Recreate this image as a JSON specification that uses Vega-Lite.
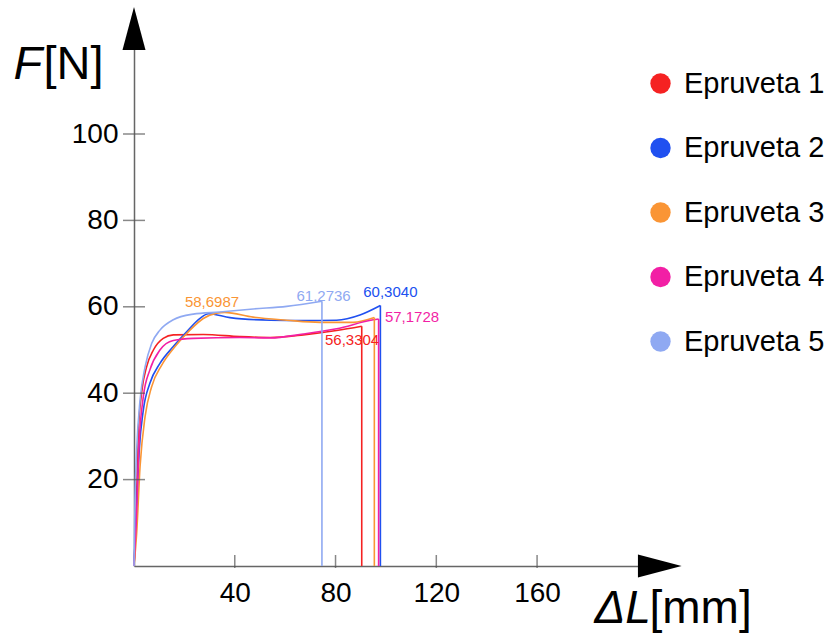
{
  "$schema": "https://vega.github.io/schema/vega-lite/v6.json",
  "width": 524,
  "height": 540,
  "autosize": {"type": "none"},
  "padding": {"left": 134, "top": 26, "right": 174, "bottom": 71},
  "background": "white",
  "config": {"view": {"stroke": null}, "font": "Liberation Sans", "axis": {"grid": false}},
  "datasets": {
    "curves": [
      {"s": "Epruveta 1", "x": 0, "y": 0}, {"s": "Epruveta 1", "x": 0.8, "y": 11.4}, {"s": "Epruveta 1", "x": 1.7, "y": 30.7}, {"s": "Epruveta 1", "x": 3.0, "y": 40}, {"s": "Epruveta 1", "x": 5.0, "y": 46.1}, {"s": "Epruveta 1", "x": 7.7, "y": 50}, {"s": "Epruveta 1", "x": 11.6, "y": 52.7}, {"s": "Epruveta 1", "x": 15.6, "y": 53.5}, {"s": "Epruveta 1", "x": 27.5, "y": 53.6}, {"s": "Epruveta 1", "x": 42, "y": 53.1}, {"s": "Epruveta 1", "x": 54, "y": 52.9}, {"s": "Epruveta 1", "x": 67.2, "y": 53.5}, {"s": "Epruveta 1", "x": 80.4, "y": 54.5}, {"s": "Epruveta 1", "x": 90.4, "y": 55.5},
      {"s": "Epruveta 2", "x": 0, "y": 0}, {"s": "Epruveta 2", "x": 1.06, "y": 13.7}, {"s": "Epruveta 2", "x": 2.1, "y": 26.9}, {"s": "Epruveta 2", "x": 3.7, "y": 36.1}, {"s": "Epruveta 2", "x": 6.3, "y": 42.3}, {"s": "Epruveta 2", "x": 10.3, "y": 46.9}, {"s": "Epruveta 2", "x": 15.6, "y": 50.8}, {"s": "Epruveta 2", "x": 20.9, "y": 54.2}, {"s": "Epruveta 2", "x": 26.2, "y": 57.3}, {"s": "Epruveta 2", "x": 29.5, "y": 58.4}, {"s": "Epruveta 2", "x": 38.1, "y": 57.5}, {"s": "Epruveta 2", "x": 54, "y": 56.9}, {"s": "Epruveta 2", "x": 67.2, "y": 56.8}, {"s": "Epruveta 2", "x": 80.4, "y": 56.9}, {"s": "Epruveta 2", "x": 89.7, "y": 58.1}, {"s": "Epruveta 2", "x": 97.8, "y": 60.3},
      {"s": "Epruveta 3", "x": 0, "y": 0}, {"s": "Epruveta 3", "x": 1.06, "y": 7.6}, {"s": "Epruveta 3", "x": 2.4, "y": 23}, {"s": "Epruveta 3", "x": 4.4, "y": 34.6}, {"s": "Epruveta 3", "x": 7, "y": 41.5}, {"s": "Epruveta 3", "x": 11, "y": 46.5}, {"s": "Epruveta 3", "x": 16.3, "y": 50.8}, {"s": "Epruveta 3", "x": 22.2, "y": 54.6}, {"s": "Epruveta 3", "x": 27.5, "y": 57.3}, {"s": "Epruveta 3", "x": 32.8, "y": 58.5}, {"s": "Epruveta 3", "x": 36, "y": 58.7}, {"s": "Epruveta 3", "x": 47.3, "y": 57.6}, {"s": "Epruveta 3", "x": 60.6, "y": 56.9}, {"s": "Epruveta 3", "x": 73.8, "y": 56.4}, {"s": "Epruveta 3", "x": 87, "y": 56.4}, {"s": "Epruveta 3", "x": 95.4, "y": 57.5},
      {"s": "Epruveta 4", "x": 0, "y": 0}, {"s": "Epruveta 4", "x": 0.8, "y": 9.1}, {"s": "Epruveta 4", "x": 2.1, "y": 29.2}, {"s": "Epruveta 4", "x": 3.7, "y": 39.2}, {"s": "Epruveta 4", "x": 6.3, "y": 45.4}, {"s": "Epruveta 4", "x": 10.3, "y": 50}, {"s": "Epruveta 4", "x": 15.6, "y": 52.2}, {"s": "Epruveta 4", "x": 23.5, "y": 52.7}, {"s": "Epruveta 4", "x": 42, "y": 52.9}, {"s": "Epruveta 4", "x": 54, "y": 52.8}, {"s": "Epruveta 4", "x": 67.2, "y": 53.7}, {"s": "Epruveta 4", "x": 80.4, "y": 54.9}, {"s": "Epruveta 4", "x": 95, "y": 57.0}, {"s": "Epruveta 4", "x": 97.1, "y": 57.17},
      {"s": "Epruveta 5", "x": 0, "y": 0}, {"s": "Epruveta 5", "x": 0.4, "y": 15.3}, {"s": "Epruveta 5", "x": 1.06, "y": 26.9}, {"s": "Epruveta 5", "x": 2.4, "y": 38.4}, {"s": "Epruveta 5", "x": 4.4, "y": 46.1}, {"s": "Epruveta 5", "x": 7, "y": 51.5}, {"s": "Epruveta 5", "x": 10.3, "y": 54.6}, {"s": "Epruveta 5", "x": 15.6, "y": 57}, {"s": "Epruveta 5", "x": 23.5, "y": 58.3}, {"s": "Epruveta 5", "x": 34.1, "y": 58.8}, {"s": "Epruveta 5", "x": 47.3, "y": 59.5}, {"s": "Epruveta 5", "x": 60.6, "y": 60.1}, {"s": "Epruveta 5", "x": 74.6, "y": 61.27}
    ],
    "ends": [
      {"s": "Epruveta 1", "x": 90.4, "y": 55.5},
      {"s": "Epruveta 2", "x": 97.8, "y": 60.3},
      {"s": "Epruveta 3", "x": 95.4, "y": 57.5},
      {"s": "Epruveta 4", "x": 97.1, "y": 57.17},
      {"s": "Epruveta 5", "x": 74.6, "y": 61.27}
    ],
    "labels": [
      {"s": "Epruveta 3", "x": 20.2, "y": 60.0, "t": "58,6987"},
      {"s": "Epruveta 5", "x": 64.5, "y": 61.4, "t": "61,2736"},
      {"s": "Epruveta 2", "x": 91.0, "y": 62.3, "t": "60,3040"},
      {"s": "Epruveta 4", "x": 99.6, "y": 56.55, "t": "57,1728"},
      {"s": "Epruveta 1", "x": 75.8, "y": 51.2, "t": "56,3304"}
    ],
    "yticks": [{"v": 20}, {"v": 40}, {"v": 60}, {"v": 80}, {"v": 100}],
    "xticks": [{"v": 40}, {"v": 80}, {"v": 120}, {"v": 160}],
    "arrowUp": [{"x": 0, "y": 124.4}],
    "arrowRight": [{"x": 208.7, "y": 0}]
  },
  "layer": [
    {
      "data": {"name": "curves"},
      "mark": {"type": "line", "interpolate": "monotone", "strokeWidth": 1.6},
      "encoding": {
        "x": {"field": "x", "type": "quantitative", "scale": {"domain": [0, 208], "nice": false, "zero": false},
          "axis": {"orient": "bottom", "values": [40, 80, 120, 160], "domainColor": "#666", "domainWidth": 1.5, "ticks": false, "labelFontSize": 28, "labelColor": "#000", "labelPadding": 13, "labelFlush": false,
            "title": "ΔL", "titleFontStyle": "italic", "titleFontWeight": "normal", "titleFontSize": 46, "titleColor": "#000", "titleX": 460, "titleY": 56, "titleAlign": "left", "titleBaseline": "alphabetic"}},
        "y": {"field": "y", "type": "quantitative", "scale": {"domain": [0, 125], "nice": false},
          "axis": {"orient": "left", "values": [20, 40, 60, 80, 100], "domainColor": "#666", "domainWidth": 1.5, "ticks": false, "labelFontSize": 28, "labelColor": "#000", "labelPadding": 16, "labelFlush": false,
            "title": "F", "titleFontStyle": "italic", "titleFontWeight": "normal", "titleFontSize": 47, "titleColor": "#000", "titleAngle": 0, "titleX": -121, "titleY": 52, "titleAlign": "left", "titleBaseline": "alphabetic"}},
        "color": {"field": "s", "type": "nominal",
          "scale": {"domain": ["Epruveta 1", "Epruveta 2", "Epruveta 3", "Epruveta 4", "Epruveta 5"], "range": ["#f52222", "#2050f0", "#fa9535", "#f21fa5", "#8fa9f2"]},
          "legend": {"orient": "none", "legendX": 512, "legendY": 43, "title": null, "padding": 0, "labelFontSize": 29, "labelColor": "#000", "symbolType": "circle", "symbolSize": 415, "rowPadding": 34.5, "labelOffset": 9,
            "encode": {"symbols": {"update": {"fill": {"scale": "color", "field": "value"}, "strokeWidth": {"value": 0}, "opacity": {"value": 1}}}}}}
      }
    },
    {
      "data": {"name": "ends"},
      "mark": {"type": "rule", "strokeWidth": 1.6},
      "encoding": {
        "x": {"field": "x", "type": "quantitative", "scale": {"domain": [0, 208], "nice": false, "zero": false}, "axis": null},
        "y": {"field": "y", "type": "quantitative", "scale": {"domain": [0, 125], "nice": false}, "axis": null},
        "y2": {"datum": 0},
        "color": {"field": "s", "type": "nominal"}
      }
    },
    {
      "data": {"name": "labels"},
      "mark": {"type": "text", "align": "left", "baseline": "alphabetic", "fontSize": 15},
      "encoding": {
        "x": {"field": "x", "type": "quantitative", "scale": {"domain": [0, 208], "nice": false, "zero": false}, "axis": null},
        "y": {"field": "y", "type": "quantitative", "scale": {"domain": [0, 125], "nice": false}, "axis": null},
        "text": {"field": "t"},
        "color": {"field": "s", "type": "nominal"}
      }
    },
    {
      "data": {"name": "yticks"},
      "mark": {"type": "tick", "orient": "horizontal", "size": 22, "thickness": 1.5, "color": "#555"},
      "encoding": {
        "y": {"field": "v", "type": "quantitative", "scale": {"domain": [0, 125], "nice": false}, "axis": null},
        "x": {"datum": 0, "type": "quantitative", "scale": {"domain": [0, 208], "nice": false, "zero": false}, "axis": null}
      }
    },
    {
      "data": {"name": "xticks"},
      "mark": {"type": "tick", "orient": "vertical", "size": 13, "thickness": 1.5, "color": "#555", "yOffset": -4.5},
      "encoding": {
        "x": {"field": "v", "type": "quantitative", "scale": {"domain": [0, 208], "nice": false, "zero": false}, "axis": null},
        "y": {"datum": 0, "type": "quantitative", "scale": {"domain": [0, 125], "nice": false}, "axis": null}
      }
    },
    {
      "data": {"name": "arrowUp"},
      "mark": {"type": "point", "shape": "M0,-1L0.535,1L-0.535,1Z", "filled": true, "size": 1849, "color": "#000", "opacity": 1},
      "encoding": {
        "x": {"field": "x", "type": "quantitative", "scale": {"domain": [0, 208], "nice": false, "zero": false},
          "axis": {"orient": "top", "domain": false, "ticks": false, "labels": false, "title": "[mm]", "titleFontWeight": "normal", "titleFontSize": 46, "titleColor": "#000", "titleX": 515, "titleY": 596, "titleAlign": "left", "titleBaseline": "alphabetic"}},
        "y": {"field": "y", "type": "quantitative", "scale": {"domain": [0, 125], "nice": false},
          "axis": {"orient": "right", "domain": false, "ticks": false, "labels": false, "title": "[N]", "titleFontWeight": "normal", "titleFontSize": 47, "titleColor": "#000", "titleAngle": 0, "titleX": -615, "titleY": 52, "titleAlign": "left", "titleBaseline": "alphabetic"}}
      }
    },
    {
      "data": {"name": "arrowRight"},
      "mark": {"type": "point", "shape": "M1,0L-1,0.526L-1,-0.526Z", "filled": true, "size": 1910, "color": "#000", "opacity": 1},
      "encoding": {
        "x": {"field": "x", "type": "quantitative", "scale": {"domain": [0, 208], "nice": false, "zero": false}, "axis": null},
        "y": {"field": "y", "type": "quantitative", "scale": {"domain": [0, 125], "nice": false}, "axis": null}
      }
    }
  ],
  "resolve": {"axis": {"x": "independent", "y": "independent"}}
}
